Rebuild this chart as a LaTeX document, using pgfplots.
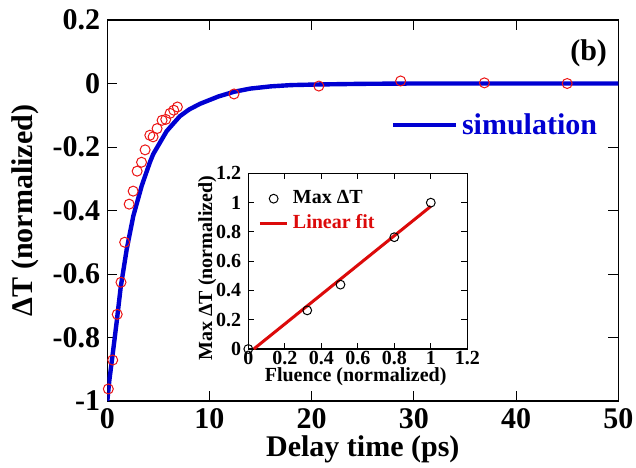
\documentclass[border=0pt]{standalone}
\usepackage{pgfplots}
\pgfplotsset{compat=1.18}
\usepackage{fontspec}
\setmainfont{Liberation Serif}
\usetikzlibrary{calc}

\definecolor{simblue}{RGB}{0,0,210}
\definecolor{ptred}{RGB}{235,20,20}
\definecolor{fitred}{RGB}{220,10,10}

\newcommand{\bigf}{\fontsize{15}{18}\selectfont\bfseries}
\newcommand{\smallf}{\fontsize{10}{12}\selectfont\bfseries}

\pgfplotsset{
    markleg/.style={legend image code/.code={\path[draw=none,fill=none] (0pt,0pt) rectangle (13.8pt,0.1pt); \draw[##1] plot coordinates {(6.9pt,0pt)};}},
    lineleg/.style={legend image code/.code={\draw[##1] (0pt,0pt) -- (#1,0pt);}},
}

\begin{document}
\begin{tikzpicture}
\begin{axis}[
    name=main,
    scale only axis,
    width=255.5pt, height=190.5pt,
    xmin=0, xmax=50,
    ymin=-1, ymax=0.2,
    xtick={0,10,20,30,40,50},
    ytick={-1,-0.8,-0.6,-0.4,-0.2,0,0.2},
    tick align=inside,
    major tick length=5pt,
    tick style={black, line width=0.5pt},
    axis line style={line width=0.6pt},
    /pgf/number format/assume math mode=true,
    tick label style={font=\bigf},
    xlabel={Delay time (ps)},
    ylabel={ΔT (normalized)},
    label style={font=\bigf},
    xlabel style={at={(axis description cs:0.5,-0.128)}, anchor=center},
    ylabel style={at={(axis description cs:-0.16,0.5)}, anchor=center},
    legend style={at={(axis cs:27.1,-0.131)}, anchor=west, draw=none, fill=none, font=\bigf},
]
\addplot[color=simblue, line width=2.2pt, lineleg=31.5pt] coordinates {
    (0,-1) (0.2,-0.935) (0.43,-0.877) (0.7,-0.808) (0.92,-0.75) (1.31,-0.642)
    (1.9,-0.522) (2.54,-0.418) (3.37,-0.322) (4.18,-0.247) (4.5,-0.222)
    (5.81,-0.150) (7.1,-0.103) (8,-0.082) (9.07,-0.064) (10.86,-0.041)
    (12.4,-0.026) (14,-0.016) (16,-0.009) (18,-0.005) (20.7,-0.003)
    (25,-0.001) (30,0) (50,0)
};
\addlegendentry{\textcolor{simblue}{simulation}}
\addplot[only marks, mark=o, mark size=2.5pt, color=ptred, line width=0.5pt, forget plot] coordinates {
    (0.1,-0.962) (0.53,-0.871) (0.97,-0.727) (1.34,-0.626) (1.70,-0.500)
    (2.14,-0.380) (2.53,-0.339) (2.92,-0.276) (3.35,-0.248) (3.70,-0.209)
    (4.16,-0.163) (4.48,-0.168) (4.87,-0.142) (5.36,-0.116) (5.72,-0.113)
    (6.14,-0.094) (6.5,-0.084) (6.86,-0.074) (12.4,-0.033) (20.7,-0.008)
    (28.7,0.008) (36.9,0.002) (45.0,0.0)
};
\node[font=\bigf] at (axis cs:47.1,0.095) {(b)};
\end{axis}

\begin{axis}[
    at={($(main.south west)+(70.5pt,26pt)$)},
    anchor=south west,
    scale only axis,
    width=109.5pt, height=87.8pt,
    xmin=0, xmax=1.2,
    ymin=0, ymax=1.2,
    xtick={0,0.2,0.4,0.6,0.8,1,1.2},
    ytick={0,0.2,0.4,0.6,0.8,1,1.2},
    tick align=inside,
    major tick length=3pt,
    tick style={black, line width=0.5pt},
    axis line style={line width=0.6pt},
    axis background/.style={fill=white},
    /pgf/number format/assume math mode=true,
    tick label style={font=\smallf},
    xticklabel style={yshift=2.5pt},
    xlabel={Fluence (normalized)},
    ylabel={Max ΔT (normalized)},
    label style={font=\smallf},
    xlabel style={at={(axis description cs:0.49,-0.16)}, anchor=center},
    ylabel style={at={(axis description cs:-0.187,0.46)}, anchor=center},
    legend cell align=left,
    legend style={at={(axis cs:0.02,1.14)}, anchor=north west, draw=none, fill=none, font=\smallf},
]
\addplot[only marks, mark=o, mark size=2.2pt, color=black, line width=0.5pt, markleg] coordinates {
    (0,0) (0.323,0.264) (0.505,0.440) (0.8,0.764) (1.0,1.0)
};
\addlegendentry{Max ΔT}
\addplot[color=fitred, line width=1.5pt, lineleg=13.8pt] coordinates {
    (0.03,0) (1.0,0.975)
};
\addlegendentry{\textcolor{fitred}{Linear fit}}
\end{axis}

\pgfresetboundingbox
\path[use as bounding box] ($(main.south west)+(-53.65pt,-33pt)$) rectangle ($(main.north east)+(8.85pt,10pt)$);
\end{tikzpicture}
\end{document}
